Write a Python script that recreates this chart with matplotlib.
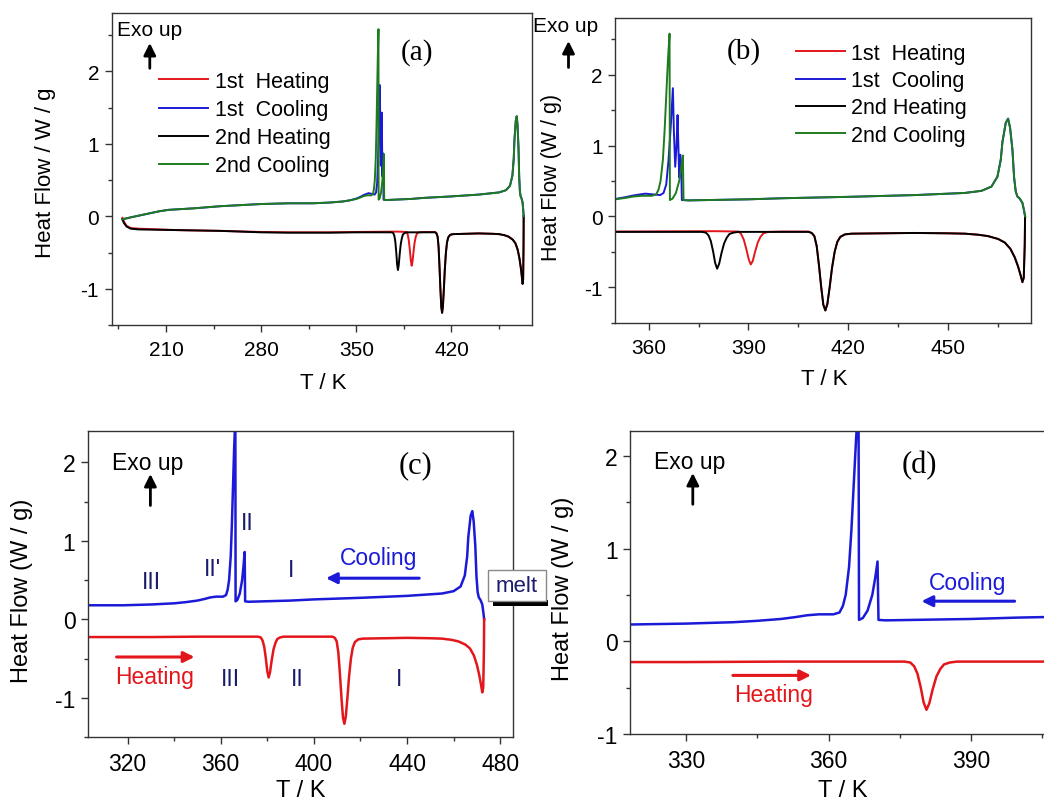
import matplotlib
matplotlib.use("Agg")
import matplotlib.pyplot as plt
from matplotlib.ticker import MultipleLocator
from matplotlib.patches import Rectangle, FancyArrowPatch

plt.rcParams["font.family"] = ["Liberation Sans", "DejaVu Sans"]
plt.rcParams["axes.unicode_minus"] = False

# ---- DSC traces (T in K, heat flow in W/g) ----
heat1_T = [178, 179, 181, 184, 190, 220, 250, 280, 300, 330, 350, 380, 387, 387.8, 388.6,
           389.4, 390.1, 390.7, 391.3, 392, 392.8, 393.6, 394.5, 396, 400, 408, 409,
           409.8, 410.5, 411.2, 411.9, 412.5, 413.1, 413.7, 414.4, 415.1, 415.9, 416.7,
           417.6, 419, 421, 440, 450, 455, 459, 462, 465, 467, 468.7, 470, 471, 471.8,
           472.3, 472.7, 473, 473.1]
heat1_Q = [-0.02, -0.07, -0.13, -0.16, -0.17, -0.19, -0.20, -0.215, -0.22, -0.22, -0.215,
           -0.21, -0.215, -0.25, -0.33, -0.47, -0.61, -0.68, -0.63, -0.50, -0.37, -0.29,
           -0.24, -0.22, -0.215, -0.215, -0.235, -0.28, -0.42, -0.70, -1.02, -1.25, -1.33,
           -1.24, -1.00, -0.73, -0.50, -0.36, -0.29, -0.255, -0.245, -0.235, -0.24, -0.245,
           -0.26, -0.28, -0.32, -0.37, -0.46, -0.58, -0.71, -0.84, -0.93, -0.87, -0.40, 0.0]

heat2_T = [178, 179, 181, 184, 190, 220, 250, 280, 300, 330, 350, 376, 377.2, 378, 378.7,
           379.4, 380, 380.6, 381.2, 381.9, 382.7, 383.5, 384.3, 385.5, 387, 400, 408, 409,
           409.8, 410.5, 411.2, 411.9, 412.5, 413.1, 413.7, 414.4, 415.1, 415.9, 416.7,
           417.6, 419, 421, 440, 450, 455, 459, 462, 465, 467, 468.7, 470, 471, 471.8,
           472.3, 472.7, 473, 473.1]
heat2_Q = [-0.04, -0.09, -0.14, -0.17, -0.18, -0.19, -0.20, -0.22, -0.225, -0.225, -0.22,
           -0.22, -0.23, -0.27, -0.35, -0.50, -0.66, -0.74, -0.67, -0.52, -0.38, -0.30,
           -0.25, -0.23, -0.22, -0.22, -0.22, -0.235, -0.28, -0.42, -0.70, -1.02, -1.25,
           -1.33, -1.24, -1.00, -0.73, -0.50, -0.36, -0.29, -0.255, -0.245, -0.235, -0.24,
           -0.245, -0.26, -0.28, -0.32, -0.37, -0.46, -0.58, -0.71, -0.84, -0.93, -0.87,
           -0.40, 0.0]

cool1_T = [178, 185, 195, 205, 212, 230, 250, 280, 300, 318, 330, 340, 345, 350, 353,
           355.5, 359, 363.5, 364.5, 365.3, 366, 366.7, 367.3, 367.6, 368, 368.4, 368.7,
           369, 369.2, 369.5, 369.8, 370, 372, 390, 400, 420, 440, 455, 460, 463, 464.8,
           465.8, 466.3, 467.3, 468, 468.6, 469.3, 469.8, 470.3, 470.8, 471.5, 472.3,
           472.8, 473.1]
cool1_Q = [-0.04, -0.01, 0.03, 0.07, 0.09, 0.11, 0.14, 0.17, 0.18, 0.18, 0.19, 0.205,
           0.22, 0.245, 0.27, 0.295, 0.32, 0.30, 0.33, 0.45, 0.80, 1.30, 1.81, 1.20, 0.70,
           1.00, 1.43, 0.90, 0.55, 0.87, 0.70, 0.23, 0.225, 0.24, 0.255, 0.275, 0.30,
           0.33, 0.36, 0.42, 0.56, 0.80, 1.05, 1.32, 1.38, 1.25, 0.94, 0.55, 0.35, 0.28,
           0.25, 0.19, 0.08, 0.0]

cool2_T = [178, 185, 195, 205, 212, 230, 250, 280, 300, 318, 330, 340, 345, 350, 353,
           355.5, 358, 361, 362.3, 363, 363.6, 364.3, 364.8, 365.3, 365.8, 366.3, 366.4,
           367.2, 368.2, 369.2, 369.8, 370.3, 370.5, 372, 390, 400, 420, 440, 455, 460,
           463, 464.8, 465.8, 466.3, 467.3, 468, 468.6, 469.3, 469.8, 470.3, 470.8, 471.5,
           472.3, 472.8, 473.1]
cool2_Q = [-0.04, -0.01, 0.03, 0.07, 0.09, 0.11, 0.14, 0.17, 0.18, 0.18, 0.19, 0.205, 0.22,
           0.24, 0.26, 0.28, 0.29, 0.29, 0.31, 0.38, 0.50, 0.80, 1.20, 1.70, 2.20, 2.58,
           0.23, 0.25, 0.33, 0.50, 0.68, 0.86, 0.23, 0.225, 0.24, 0.255, 0.275, 0.30,
           0.33, 0.36, 0.42, 0.56, 0.80, 1.05, 1.32, 1.38, 1.25, 0.94, 0.55, 0.35, 0.28,
           0.25, 0.19, 0.08, 0.0]

labels = ["1st  Heating", "1st  Cooling", "2nd Heating", "2nd Cooling"]
RED, BLUE, GREEN, NAVY = "#e3161b", "#1a1ad8", "#1e7b1e", "#1b1b6b"

W, H = 1044, 804
fig = plt.figure(figsize=(W / 100, H / 100), dpi=100)


def F(x, y):
    return (x / W, 1 - y / H)


def add_ax(l, t, r, b):
    return fig.add_axes([l / W, 1 - b / H, (r - l) / W, (b - t) / H])


def style(ax, xmaj, fs):
    ax.xaxis.set_major_locator(MultipleLocator(xmaj))
    ax.xaxis.set_minor_locator(MultipleLocator(xmaj / 2))
    ax.yaxis.set_major_locator(MultipleLocator(1))
    ax.yaxis.set_minor_locator(MultipleLocator(0.5))
    ax.tick_params(which="both", direction="out", width=1, color="#333333",
                   labelsize=fs, top=False, right=False)
    ax.tick_params(which="major", length=5)
    ax.tick_params(which="minor", length=3)
    ax.tick_params(axis="x", pad=6)
    ax.tick_params(axis="y", pad=4)
    for s in ax.spines.values():
        s.set_color("#333333")
        s.set_linewidth(1)


def arrow(x0, y0, x1, y1, color, lw=2, ms=18):
    fig.add_artist(FancyArrowPatch(F(x0, y0), F(x1, y1), transform=fig.transFigure,
                                   arrowstyle="-|>", mutation_scale=ms, color=color,
                                   lw=lw, shrinkA=0, shrinkB=0))


def txt(x, y, s, fs, color="black", ha="center", **kw):
    fig.text(*F(x, y), s, fontsize=fs, color=color, ha=ha, va="center", **kw)


def four_curves(ax):
    ax.plot(heat1_T, heat1_Q, color=RED, lw=1.4, label=labels[0])
    ax.plot(cool1_T, cool1_Q, color=BLUE, lw=1.4, label=labels[1])
    ax.plot(heat2_T, heat2_Q, color="black", lw=1.4, label=labels[2])
    ax.plot(cool2_T, cool2_Q, color=GREEN, lw=1.4, label=labels[3])


# ---------------- (a) ----------------
axa = add_ax(111.6, 14.2, 531.7, 326.2)
four_curves(axa)
axa.set_xlim(170, 479)
axa.set_ylim(-1.5, 2.8)
style(axa, 70, 15)
axa.legend(loc="upper left", bbox_to_anchor=F(158.9, 72), bbox_transform=fig.transFigure,
           frameon=False, fontsize=15.5, borderpad=0, borderaxespad=0,
           handlelength=2.3, handletextpad=0.3, labelspacing=0.33)
txt(116.6, 30.4, "Exo up", 15, ha="left")
arrow(149.8, 69.3, 149.8, 44, "black")
txt(417.5, 52.4, "(a)", 21, family="Liberation Serif")
txt(45.6, 172.4, "Heat Flow / W / g", 16, rotation=90)
txt(322.9, 383.7, "T / K", 16)

# ---------------- (b) ----------------
axb = add_ax(615.3, 19.1, 1031.4, 323.5)
four_curves(axb)
axb.set_xlim(350, 475)
axb.set_ylim(-1.5, 2.8)
style(axb, 30, 15)
axb.legend(loc="upper left", bbox_to_anchor=F(795.7, 44), bbox_transform=fig.transFigure,
           frameon=False, fontsize=15.5, borderpad=0, borderaxespad=0,
           handlelength=2.3, handletextpad=0.25, labelspacing=0.29)
txt(533.4, 26.7, "Exo up", 15, ha="left")
arrow(568.5, 68.5, 568.5, 42, "black")
txt(743.9, 51.8, "(b)", 21, family="Liberation Serif")
txt(551.8, 177, "Heat Flow (W / g)", 15.5, rotation=90)
txt(824.1, 379.3, "T / K", 16)

# ---------------- (c) ----------------
axc = add_ax(87.9, 432.1, 512.8, 738.1)
axc.plot(cool2_T, cool2_Q, color=BLUE, lw=1.8)
axc.plot(heat2_T, heat2_Q, color=RED, lw=1.8)
axc.set_xlim(303, 485.4)
axc.set_ylim(-1.5, 2.4)
style(axc, 40, 16.5)
txt(111.6, 463.2, "Exo up", 16.5, ha="left")
arrow(150.4, 506.5, 150.4, 475, "black")
txt(415.8, 465.9, "(c)", 22, family="Liberation Serif")
txt(22, 591, "Heat Flow (W / g)", 17, rotation=90)
txt(300.9, 791, "T / K", 17)
txt(151.1, 582.6, "III", 16.5, NAVY)
txt(212.3, 569, "II'", 16.5, NAVY)
txt(247.5, 523.4, "II", 16.5, NAVY)
txt(291.4, 570.7, "I", 16.5, NAVY)
txt(378.6, 558.9, "Cooling", 16.5, BLUE)
arrow(419.2, 579.2, 326, 579.2, BLUE, lw=2.2, ms=16)
arrow(116.6, 658, 194.5, 658, RED, lw=2.2, ms=16)
txt(154.8, 677.9, "Heating", 16.5, RED)
txt(230.6, 679.9, "III", 16.5, NAVY)
txt(297.5, 679.9, "II", 16.5, NAVY)
txt(398.9, 679.9, "I", 16.5, NAVY)

# melt box between (c) and (d)
fig.add_artist(Rectangle(F(493.3, 606.7), 55 / W, 6 / H, transform=fig.transFigure,
                         facecolor="black", edgecolor="none", zorder=5))
fig.add_artist(Rectangle(F(487.7, 601.7), 58.3 / W, 30.7 / H, transform=fig.transFigure,
                         facecolor="white", edgecolor="#888888", lw=1, zorder=6))
fig.text(*F(517, 587), "melt", fontsize=16, color=NAVY, ha="center", va="center", zorder=7)

# ---------------- (d) ----------------
axd = add_ax(630.3, 431.8, 1050, 734.9)
axd.plot(cool2_T, cool2_Q, color=BLUE, lw=1.8)
axd.plot(heat2_T, heat2_Q, color=RED, lw=1.8)
axd.set_xlim(318.26, 406.6)
axd.set_ylim(-1, 2.27)
style(axd, 30, 16.5)
txt(653.7, 462.5, "Exo up", 16.5, ha="left")
arrow(692.8, 505.3, 692.8, 474, "black")
txt(919.4, 465.2, "(d)", 22, family="Liberation Serif")
txt(563.4, 588.8, "Heat Flow (W / g)", 17, rotation=90)
txt(842.5, 791, "T / K", 17)
txt(967.9, 583.8, "Cooling", 16.5, BLUE)
arrow(1014.6, 602.2, 921.5, 602.2, BLUE, lw=2.2, ms=16)
arrow(732.9, 676.4, 811, 676.4, RED, lw=2.2, ms=16)
txt(774, 695.8, "Heating", 16.5, RED)

fig.savefig("out.png", dpi=100)
